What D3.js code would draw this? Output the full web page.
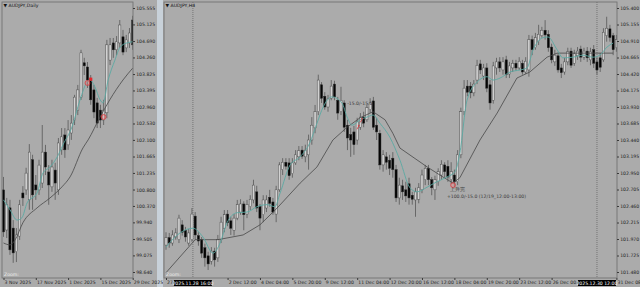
<!DOCTYPE html>
<html lang="en">
<head>
<meta charset="utf-8">
<script src="https://cdnjs.cloudflare.com/ajax/libs/d3/7.8.5/d3.min.js"></script>
<style>
  body { margin: 0; background: #cfd6dc; }
  svg { display: block; }
  .axis text { font-family: "DejaVu Sans", sans-serif; font-size: 4.6px; fill: #1e1e1e; }
  .axis line { stroke: #3a3a3a; }
  .axis path { display: none; }
  .lbl { font-family: "DejaVu Sans", sans-serif; font-size: 4.6px; }
</style>
</head>
<body>
<script>

///////// daily chart (left window)

var dailyDateLabels = ["3 Nov 2025", "17 Nov 2025", "1 Dec 2025", "15 Dec 2025", "29 Dec 2025"];
var dailyDateBars = [0, 10, 20, 30, 40];
var dailyPriceTicks = [105.555, 105.125, 104.690, 104.260, 103.825, 103.395, 102.960, 102.530, 102.100,
                       101.665, 101.235, 100.800, 100.370, 99.940, 99.505, 99.075, 98.640];

var dailyOpen  = [100.79, 99.74, 100.32, 99.79, 99.17, 99.58, 100.71, 100.79, 100.53, 101.58,
                  100.92, 100.79, 100.97, 101.78, 101.26, 100.87, 101.31, 100.79, 101.84, 102.23,
                  101.97, 102.28, 102.62, 102.88, 103.22, 104.12, 104.01, 103.67, 103.41, 103.07,
                  102.88, 102.62, 102.81, 104.19, 104.64, 104.46, 104.64, 104.80, 104.51, 104.64, 105.24];
var dailyHigh  = [101.13, 100.58, 100.53, 100.00, 99.79, 100.53, 100.89, 101.37, 101.99, 101.71,
                  101.18, 101.58, 102.49, 101.97, 101.44, 101.58, 101.50, 102.15, 102.41, 102.41,
                  102.62, 102.75, 103.28, 103.54, 104.46, 104.25, 104.14, 103.80, 103.54, 103.20,
                  103.02, 103.15, 104.72, 104.77, 104.77, 104.82, 105.24, 104.98, 104.85, 105.03, 105.35];
var dailyLow   = [99.56, 99.53, 99.09, 98.88, 98.90, 99.48, 100.37, 100.66, 100.27, 100.27,
                  100.53, 100.66, 100.84, 101.18, 100.40, 100.74, 100.53, 100.66, 101.71, 101.63,
                  101.84, 102.10, 102.49, 102.75, 103.15, 103.80, 103.46, 103.02, 102.67, 102.41,
                  102.41, 102.49, 102.67, 104.06, 104.25, 104.32, 104.51, 104.32, 104.40, 104.51, 104.46];
var dailyClose = [99.69, 100.40, 99.22, 99.14, 99.61, 100.40, 100.58, 101.23, 101.78, 100.66,
                  100.79, 101.44, 101.78, 101.39, 100.92, 101.39, 100.97, 102.02, 102.18, 101.84,
                  102.36, 102.54, 103.22, 103.41, 104.38, 104.04, 103.67, 103.15, 102.83, 102.54,
                  102.62, 102.88, 104.59, 104.59, 104.46, 104.67, 105.11, 104.40, 104.72, 104.90, 104.59];

// [bar, price] vertices
var dailyFastMA = [[0,100.53],[2,100.27],[4.2,100.00],[5.7,100.06],[7.3,100.45],[10.4,100.71],[12.2,101.23],
                   [14.4,101.39],[16.6,101.65],[18.4,101.97],[21.2,102.44],[23.7,103.15],[25.9,103.62],
                   [26.8,103.67],[28.3,103.49],[29.9,103.15],[30.8,103.07],[32.4,103.67],[34.5,104.19],
                   [36.1,104.53],[38.2,104.64],[40,104.67]];
var dailySlowMA = [[0,99.40],[2,99.35],[3.6,99.48],[6,99.93],[10.4,100.32],[14.4,100.58],[18.1,100.87],
                   [20.6,101.13],[24.6,101.89],[26.2,102.10],[29.9,102.70],[32.9,103.15],[37,103.67],[40,103.98]];
var dailySignals = [{bar: 26, price: 103.59, kind: "ring"}, {bar: 27, price: 103.69, kind: "dot"},
                    {bar: 31, price: 102.70, kind: "ring"}];

///////// H4 chart (right window)

// labels hidden under the two black crosshair boxes are left out
var h4DateLabels = ["27 Nov 2025", "2 Dec 12:00", "4 Dec 04:00", "5 Dec 20:00", "9 Dec 12:00",
                    "11 Dec 04:00", "12 Dec 20:00", "16 Dec 12:00", "18 Dec 04:00", "19 Dec 20:00",
                    "23 Dec 12:00", "26 Dec 00:00", "31 Dec 08:00"];
var h4DateBars = [0, 19, 29, 39, 49, 59, 69, 79, 89, 99, 109, 119, 139];
var h4PriceTicks = [105.400, 105.155, 104.910, 104.665, 104.420, 104.175, 103.930, 103.685, 103.440,
                    103.195, 102.950, 102.705, 102.460, 102.215, 101.970, 101.725, 101.480];

var h4Open  = [101.88, 101.99, 101.91, 102.00, 101.96, 102.18, 102.10, 101.91, 101.96, 102.31,
               102.02, 101.96, 101.84, 101.72, 101.64, 101.79, 101.69, 101.96, 102.13, 102.34,
               102.24, 102.10, 102.28, 102.37, 102.49, 102.34, 102.45, 102.55, 102.67, 102.45,
               102.33, 102.43, 102.59, 102.52, 102.34, 102.70, 103.00, 103.11, 103.10, 102.94,
               103.10, 103.19, 103.29, 103.19, 103.22, 103.44, 103.62, 103.86, 104.26, 104.09,
               103.93, 104.06, 104.27, 104.03, 103.86, 103.99, 103.66, 103.52, 103.56, 103.44,
               103.63, 103.78, 103.74, 103.89, 104.02, 103.66, 103.54, 103.07, 103.19, 103.14,
               103.17, 103.00, 102.58, 102.76, 102.70, 102.79, 102.62, 102.55, 102.56, 102.70,
               102.85, 103.02, 102.85, 102.70, 102.82, 102.92, 103.07, 103.05, 102.85, 102.92,
               102.82, 103.22, 103.86, 104.24, 104.24, 104.14, 104.33, 104.57, 104.39, 104.51,
               104.26, 104.03, 104.51, 104.60, 104.48, 104.63, 104.42, 104.51, 104.58, 104.51,
               104.58, 104.45, 104.48, 104.93, 104.81, 104.90, 104.99, 105.07, 105.01, 104.82,
               104.60, 104.69, 104.51, 104.45, 104.60, 104.76, 104.58, 104.69, 104.79, 104.67,
               104.76, 104.63, 104.78, 104.60, 104.66, 104.63, 104.99, 105.09, 104.99, 104.81];
var h4High  = [102.07, 102.06, 102.10, 102.13, 102.33, 102.25, 102.15, 102.12, 102.43, 102.37,
               102.07, 102.00, 101.90, 101.78, 101.85, 101.84, 102.03, 102.30, 102.40, 102.40,
               102.30, 102.34, 102.55, 102.56, 102.53, 102.55, 102.62, 102.85, 102.76, 102.49,
               102.62, 102.62, 102.70, 102.58, 102.76, 103.11, 103.17, 103.17, 103.17, 103.17,
               103.29, 103.35, 103.35, 103.37, 103.52, 103.78, 103.96, 104.41, 104.30, 104.15,
               104.11, 104.33, 104.32, 104.08, 104.23, 104.03, 103.74, 103.62, 103.65, 103.77,
               103.84, 103.86, 103.96, 104.06, 104.08, 103.77, 103.59, 103.29, 103.26, 103.22,
               103.26, 103.07, 102.88, 102.85, 102.82, 102.88, 102.67, 102.73, 102.80, 103.00,
               103.07, 103.07, 102.89, 102.91, 103.02, 103.14, 103.11, 103.14, 103.11, 103.00,
               103.29, 103.92, 104.33, 104.33, 104.30, 104.33, 104.63, 104.63, 104.57, 104.58,
               104.33, 104.60, 104.66, 104.67, 104.67, 104.69, 104.60, 104.63, 104.63, 104.67,
               104.63, 104.67, 105.00, 104.99, 105.03, 105.15, 105.12, 105.22, 105.07, 104.87,
               104.78, 104.73, 104.57, 104.66, 104.81, 104.81, 104.78, 104.82, 104.84, 104.81,
               104.82, 104.81, 104.85, 104.67, 104.73, 105.10, 105.27, 105.15, 105.03, 105.00];
var h4Low   = [101.81, 101.84, 101.87, 101.96, 101.91, 102.02, 101.93, 101.87, 101.93, 101.96,
               101.87, 101.69, 101.56, 101.51, 101.59, 101.56, 101.63, 101.91, 102.07, 102.16,
               102.03, 102.02, 102.25, 102.33, 102.10, 102.28, 102.40, 102.50, 102.37, 102.10,
               102.22, 102.37, 102.45, 102.33, 102.22, 102.67, 102.92, 103.00, 102.85, 102.88,
               103.07, 103.14, 103.16, 103.11, 103.00, 103.37, 103.54, 103.81, 103.99, 103.89,
               103.86, 104.03, 104.03, 103.74, 103.81, 103.56, 103.29, 103.19, 103.22, 103.37,
               103.59, 103.63, 103.71, 103.84, 103.59, 103.44, 103.00, 102.97, 103.00, 102.92,
               102.88, 102.52, 102.48, 102.55, 102.52, 102.48, 102.48, 102.30, 102.50, 102.65,
               102.77, 102.77, 102.62, 102.55, 102.76, 102.85, 102.88, 102.82, 102.79, 102.74,
               102.77, 103.17, 103.81, 104.09, 104.06, 104.09, 104.27, 104.42, 104.33, 104.15,
               103.89, 103.98, 104.41, 104.45, 104.41, 104.36, 104.36, 104.45, 104.47, 104.48,
               104.41, 104.42, 104.38, 104.70, 104.78, 104.85, 104.96, 104.93, 104.75, 104.58,
               104.54, 104.44, 104.36, 104.41, 104.55, 104.51, 104.54, 104.63, 104.60, 104.63,
               104.60, 104.55, 104.51, 104.41, 104.45, 104.60, 104.90, 104.90, 104.70, 104.75];
var h4Close = [101.99, 101.91, 102.03, 102.06, 102.28, 102.07, 102.00, 102.06, 102.34, 102.03,
               101.94, 101.76, 101.69, 101.60, 101.79, 101.66, 101.96, 102.22, 102.33, 102.21,
               102.13, 102.28, 102.48, 102.49, 102.33, 102.48, 102.56, 102.77, 102.43, 102.28,
               102.55, 102.55, 102.50, 102.37, 102.70, 103.07, 103.11, 103.05, 102.91, 103.10,
               103.22, 103.28, 103.20, 103.29, 103.44, 103.66, 103.86, 104.33, 104.06, 103.93,
               104.05, 104.24, 104.08, 103.84, 104.03, 103.63, 103.47, 103.44, 103.37, 103.71,
               103.78, 103.69, 103.92, 103.99, 103.63, 103.56, 103.07, 103.22, 103.11, 103.02,
               103.00, 102.58, 102.77, 102.67, 102.61, 102.58, 102.56, 102.67, 102.73, 102.92,
               103.02, 102.85, 102.73, 102.85, 102.97, 103.08, 102.97, 102.89, 102.97, 102.82,
               103.22, 103.86, 104.21, 104.15, 104.14, 104.27, 104.55, 104.48, 104.51, 104.21,
               103.99, 104.54, 104.60, 104.51, 104.60, 104.41, 104.54, 104.58, 104.51, 104.61,
               104.45, 104.61, 104.93, 104.78, 104.96, 105.01, 105.07, 105.00, 104.81, 104.63,
               104.70, 104.48, 104.44, 104.60, 104.75, 104.55, 104.72, 104.76, 104.67, 104.76,
               104.66, 104.75, 104.58, 104.48, 104.52, 105.04, 105.10, 104.96, 104.78, 104.93];

var h4FastMA = [[0,101.85],[4.3,102.06],[8.3,102.13],[11.4,102.00],[14.5,101.76],[16.7,101.91],[18.8,102.21],
                [21.9,102.36],[25,102.37],[28.1,102.45],[31.2,102.48],[33.6,102.45],[35.2,102.65],[38.3,103.07],
                [41.4,103.19],[44.4,103.40],[46.6,103.69],[48.5,103.93],[51.2,104.08],[54.3,103.99],[55.9,103.78],
                [57.4,103.66],[59.9,103.74],[62,103.78],[63.9,103.81],[66,103.69],[69.1,103.48],[72.2,103.14],
                [75.3,102.73],[77.5,102.67],[80.6,102.74],[83.6,102.82],[86.7,102.89],[89.2,102.97],[90.7,103.25],
                [92.9,104.03],[96,104.30],[99.1,104.38],[100.9,104.33],[103.1,104.36],[106.2,104.45],[109.3,104.48],
                [111.4,104.51],[113.3,104.78],[116.4,104.96],[117.9,104.97],[120.7,104.78],[122.5,104.66],
                [125.6,104.67],[128.7,104.70],[131.8,104.67],[133.9,104.70],[136.1,104.82],[138,104.88]];
var h4SlowMA = [[0,101.47],[9,101.96],[16,101.96],[23.8,102.03],[29,102.18],[34.3,102.43],[41.4,102.80],
                [46.6,103.04],[51.5,103.44],[55.9,103.63],[59.9,103.77],[63.9,103.86],[67.6,103.74],[70,103.54],
                [72.2,103.32],[80.6,103.04],[85.5,102.89],[88.6,102.80],[90.7,102.88],[96.9,103.44],[102.2,103.84],
                [108.3,104.36],[112.3,104.45],[117.6,104.67],[120.7,104.73],[138,104.73]];
var h4Signals = [{bar: 88.6, price: 102.77, kind: "ring"},
                 {bar: 59.3, price: 103.63, kind: "arrow"}, {bar: 60.3, price: 103.73, kind: "arrow"}];
var h4Notes = [{bar: 55.9, price: 103.96, text: "-15.0/-15.0"},
               {bar: 87.6, price: 102.68, text: "上升完"},
               {bar: 86.7, price: 102.58, text: "+100.0/-15.0  (12/19_12:00-13:00)"}];
var h4Cursors = [{bar: 8.3, text: "2025.11.28 16:00"}, {bar: 133, text: "2025.12.30 12:00"}];

////////////////// drawing

var W = 640, H = 287;

var svg = d3.select("body").append("svg")
    .attr("width", W)
    .attr("height", H);

// separator strip between the two chart windows
svg.append("rect").attr("x", 157).attr("y", 0).attr("width", 6).attr("height", H).attr("fill", "#c8d1d9");

function drawPanel(cfg) {
  var g = svg.append("g");
  var plot = cfg.plot;

  g.append("rect")
      .attr("x", cfg.win[0]).attr("y", 0)
      .attr("width", cfg.win[1] - cfg.win[0]).attr("height", H)
      .attr("fill", "#ababab");

  var x = d3.scaleLinear().domain(cfg.barDomain).range(cfg.barRange);
  var y = d3.scaleLinear()
      .domain([cfg.ticks[cfg.ticks.length - 1], cfg.ticks[0]])
      .range([272, 8]);

  g.append("defs").append("clipPath")
      .attr("id", cfg.id)
    .append("rect")
      .attr("x", plot.x0).attr("y", plot.y0)
      .attr("width", plot.x1 - plot.x0).attr("height", plot.y1 - plot.y0);

  var inner = g.append("g").attr("clip-path", "url(#" + cfg.id + ")");

  // crosshair dotted lines
  (cfg.cursors || []).forEach(function(c) {
    inner.append("line")
        .attr("x1", x(c.bar)).attr("x2", x(c.bar))
        .attr("y1", plot.y0).attr("y2", plot.y1)
        .attr("stroke", "#505050").attr("stroke-width", 0.6)
        .attr("stroke-dasharray", "1,1");
  });

  var bars = d3.range(cfg.open.length).map(function(i) {
    return {i: i, o: cfg.open[i], h: cfg.high[i], l: cfg.low[i], c: cfg.close[i]};
  });

  var candle = inner.selectAll(".candle")
      .data(bars)
      .enter().append("g")
      .attr("class", "candle");

  candle.append("line")
      .attr("x1", function(d) { return x(d.i); })
      .attr("x2", function(d) { return x(d.i); })
      .attr("y1", function(d) { return y(d.h); })
      .attr("y2", function(d) { return y(d.l); })
      .attr("stroke", "#4a4a4a")
      .attr("stroke-width", 0.7);

  candle.append("rect")
      .attr("x", function(d) { return x(d.i) - 1.1; })
      .attr("y", function(d) { return y(Math.max(d.o, d.c)); })
      .attr("width", 2.2)
      .attr("height", function(d) { return Math.max(0.7, Math.abs(y(d.o) - y(d.c))); })
      .attr("fill", function(d) { return d.c >= d.o ? "#d2d2d2" : "#050505"; })
      .attr("stroke", function(d) { return d.c >= d.o ? "#4a4a4a" : "#2a2a2a"; })
      .attr("stroke-width", 0.45);

  var line = d3.line()
      .x(function(d) { return x(d[0]); })
      .y(function(d) { return y(d[1]); });

  inner.append("path")
      .datum(cfg.slowMA)
      .attr("fill", "none")
      .attr("stroke", "#474747")
      .attr("stroke-width", 0.8)
      .attr("d", line.curve(cfg.slowCurve));

  inner.append("path")
      .datum(cfg.fastMA)
      .attr("fill", "none")
      .attr("stroke", "#5aa9a3")
      .attr("stroke-width", 0.9)
      .attr("d", line.curve(d3.curveMonotoneX));

  // signal marks
  cfg.signals.forEach(function(s) {
    var sx = x(s.bar), sy = y(s.price);
    if (s.kind === "ring") {
      inner.append("circle")
          .attr("cx", sx).attr("cy", sy).attr("r", 2.4)
          .attr("fill", "rgba(255,140,140,0.35)")
          .attr("stroke", "#e0363b").attr("stroke-width", 0.8);
    } else if (s.kind === "dot") {
      inner.append("rect")
          .attr("x", sx - 1.6).attr("y", sy - 1.6).attr("width", 3.2).attr("height", 3.2)
          .attr("fill", "#e3262c");
    } else {
      inner.append("path")
          .attr("d", "M" + (sx - 1.2) + "," + (sy + 2) + "L" + (sx + 1.2) + "," + (sy - 2) +
                     "M" + (sx + 1.2) + "," + (sy - 2) + "l-1.4,0.3")
          .attr("fill", "none")
          .attr("stroke", "#e0363b").attr("stroke-width", 0.8);
    }
  });

  (cfg.notes || []).forEach(function(n) {
    inner.append("text")
        .attr("class", "lbl")
        .attr("x", x(n.bar)).attr("y", y(n.price))
        .attr("font-size", "4.3px")
        .attr("fill", "#3a3a3a")
        .text(n.text);
  });

  // frame
  g.append("rect")
      .attr("x", plot.x0).attr("y", plot.y0)
      .attr("width", plot.x1 - plot.x0).attr("height", plot.y1 - plot.y0)
      .attr("fill", "none")
      .attr("stroke", "#6c6c6c")
      .attr("stroke-width", 0.8);

  g.append("g")
      .attr("class", "axis")
      .attr("transform", "translate(" + plot.x1 + ",0)")
      .call(d3.axisRight(y).tickValues(cfg.ticks).tickSize(2).tickPadding(1.2)
              .tickFormat(d3.format(".3f")));

  var xAxis = g.append("g")
      .attr("class", "axis")
      .attr("transform", "translate(0," + plot.y1 + ")")
      .call(d3.axisBottom(x).tickValues(cfg.dateBars).tickSize(2).tickPadding(1)
              .tickFormat(function(d, i) { return cfg.dateLabels[i]; }));
  xAxis.selectAll("text").attr("text-anchor", "start").attr("dx", "0.6");

  (cfg.cursors || []).forEach(function(c) {
    g.append("rect")
        .attr("x", x(c.bar) - 19).attr("y", plot.y1 + 2)
        .attr("width", 38).attr("height", 6)
        .attr("fill", "#000");
    g.append("text")
        .attr("class", "lbl")
        .attr("x", x(c.bar)).attr("y", plot.y1 + 6.7)
        .attr("text-anchor", "middle")
        .attr("fill", "#fff")
        .text(c.text);
  });

  g.append("text")
      .attr("class", "lbl")
      .attr("x", plot.x0 + 1.5).attr("y", 7)
      .attr("fill", "#111")
      .text("\u25BC " + cfg.title);

  g.append("text")
      .attr("class", "lbl")
      .attr("x", plot.x0 + 2).attr("y", plot.y1 - 2)
      .attr("font-size", "4px")
      .attr("fill", "#f2f2f2")
      .text("Zoom:");
}

drawPanel({
  id: "clipDaily",
  title: "AUDJPY,Daily",
  win: [0, 157],
  plot: {x0: 2, x1: 133, y0: 2, y1: 278},
  barDomain: [0, 40], barRange: [3.5, 132.7],
  ticks: dailyPriceTicks,
  dateBars: dailyDateBars, dateLabels: dailyDateLabels,
  open: dailyOpen, high: dailyHigh, low: dailyLow, close: dailyClose,
  fastMA: dailyFastMA, slowMA: dailySlowMA, slowCurve: d3.curveMonotoneX,
  signals: dailySignals
});

drawPanel({
  id: "clipH4",
  title: "AUDJPY,H4",
  win: [163, 640],
  plot: {x0: 164, x1: 617, y0: 2, y1: 278},
  barDomain: [0, 139], barRange: [166, 616.4],
  ticks: h4PriceTicks,
  dateBars: h4DateBars, dateLabels: h4DateLabels,
  open: h4Open, high: h4High, low: h4Low, close: h4Close,
  fastMA: h4FastMA, slowMA: h4SlowMA, slowCurve: d3.curveLinear,
  signals: h4Signals,
  notes: h4Notes,
  cursors: h4Cursors
});

</script>
</body>
</html>
